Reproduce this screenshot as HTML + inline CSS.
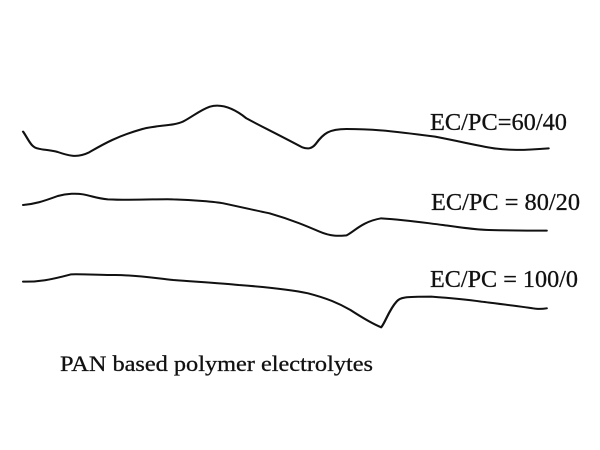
<!DOCTYPE html>
<html><head><meta charset="utf-8"><style>
html,body{margin:0;padding:0;background:#fff;}
svg{display:block;}
text{font-family:"Liberation Serif",serif;fill:#111;stroke:#111;stroke-width:0.3;}
</style></head><body>
<svg width="600" height="450" viewBox="0 0 600 450" xmlns="http://www.w3.org/2000/svg">
<g transform="translate(0,90) scale(0.385,0.3333)" fill="none" stroke="#111" stroke-width="6" stroke-linejoin="round" stroke-linecap="round">
<path d="M60,125 C75,150 80,172 100,176 C115,180 130,180 150,186 C175,196 200,205 230,188 C265,165 300,140 370,117 C410,105 450,108 475,95 C500,80 520,60 545,50 C570,42 600,48 640,85 C680,110 720,132 785,172 C800,178 810,176 820,162 C840,130 855,117 900,117 C960,117 1000,120 1130,140 C1210,158 1260,172 1290,176 C1320,180 1350,182 1425,175"/>
<path d="M60,345 C90,342 110,335 150,318 C175,310 200,310 215,313 C240,318 250,325 280,328 C350,332 420,326 450,328 C500,330 560,335 580,340 C640,355 690,368 700,370 C760,390 800,410 830,425 C860,440 880,438 900,436 C920,425 940,395 990,385 C1060,390 1100,398 1150,405 C1200,413 1240,420 1270,420 C1340,422 1380,422 1420,422"/>
<path d="M60,575 C100,576 130,570 185,553 C230,552 260,556 300,555 C360,556 400,564 450,570 C520,576 580,580 620,585 C700,592 760,600 800,610 C850,625 880,640 910,660 C950,690 975,705 990,712 C1000,700 1010,660 1030,635 C1040,622 1050,620 1120,620 C1180,625 1220,630 1250,635 C1320,645 1370,652 1390,656 C1405,658 1415,656 1420,655"/>
</g>
<text x="430" y="130" font-size="24" textLength="137" lengthAdjust="spacingAndGlyphs">EC/PC=60/40</text>
<text x="431" y="210" font-size="24" textLength="149" lengthAdjust="spacingAndGlyphs">EC/PC = 80/20</text>
<text x="430" y="287" font-size="24" textLength="148" lengthAdjust="spacingAndGlyphs">EC/PC = 100/0</text>
<text x="60" y="371" font-size="22" textLength="313" lengthAdjust="spacingAndGlyphs">PAN based polymer electrolytes</text>
</svg>
</body></html>
